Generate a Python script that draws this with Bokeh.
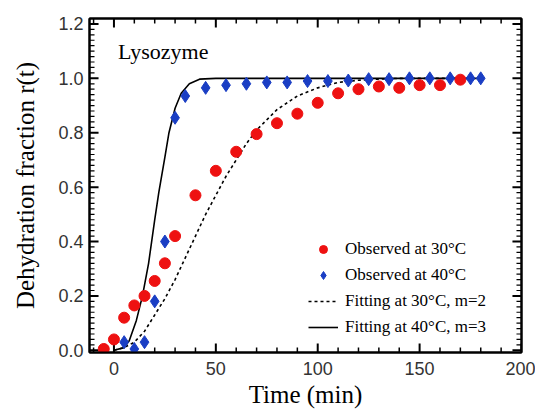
from bokeh.plotting import figure
from bokeh.models import (LinearAxis, FixedTicker, Legend, LegendItem, Label,
                          Range1d, CustomJSTickFormatter)
from bokeh.embed import file_html
from bokeh.resources import INLINE

# Observed at 30 °C (red circles)
t_obs30 = [-5, 0, 5, 10, 15, 20, 25, 30, 40, 50, 60, 70, 80, 90, 100, 110,
           120, 130, 140, 150, 160, 170]
r_obs30 = [0.005, 0.04, 0.12, 0.165, 0.20, 0.255, 0.32, 0.42, 0.57, 0.66,
           0.73, 0.795, 0.835, 0.87, 0.91, 0.945, 0.96, 0.97, 0.965, 0.975,
           0.975, 0.995]

# Observed at 40 °C (blue diamonds)
t_obs40 = [5, 10, 15, 20, 25, 30, 35, 45, 55, 65, 75, 85, 95, 105, 115, 125,
           135, 145, 155, 165, 175, 180]
r_obs40 = [0.03, 0.005, 0.03, 0.18, 0.40, 0.855, 0.935, 0.965, 0.975, 0.98,
           0.985, 0.985, 0.99, 0.99, 0.992, 0.997, 0.997, 1.0, 1.0, 1.0, 1.0,
           1.0]

# Fitting at 30 °C, m=2 (dotted)
t_fit30 = [0, 5, 10, 15, 20, 25, 30, 35, 40, 45, 50, 55, 60, 65, 70, 80, 90,
           100, 110, 120, 130, 140, 150, 180]
r_fit30 = [0.0, 0.01, 0.03, 0.07, 0.13, 0.19, 0.26, 0.34, 0.42, 0.50, 0.57,
           0.64, 0.70, 0.76, 0.81, 0.885, 0.935, 0.965, 0.985, 0.993, 0.997,
           1.0, 1.0, 1.0]

# Fitting at 40 °C, m=3 (solid)
t_fit40 = [0, 5, 7.5, 11, 14, 17, 20, 22, 25, 27, 30, 33, 37, 42, 50, 180]
r_fit40 = [0.0, 0.01, 0.035, 0.11, 0.20, 0.32, 0.48, 0.58, 0.71, 0.80, 0.89,
           0.945, 0.98, 0.997, 1.0, 1.0]

# Tick labels / tick positions
x_ticks = [0, 50, 100, 150, 200]
x_minor = [v for v in range(-10, 201, 10) if v not in x_ticks]
y_ticks = [0.0, 0.2, 0.4, 0.6, 0.8, 1.0, 1.2]
y_minor = [round(i * 0.02, 2) for i in range(0, 61) if i % 10 != 0]

# Axis extents
X_LO, X_HI = -12, 200
Y_LO, Y_HI = -0.008, 1.22

W, H = 535, 410
BL, BR, BT, BB = 89, 14, 18, 56

p = figure(width=W, height=H, output_backend="svg", toolbar_location=None,
           x_range=Range1d(X_LO, X_HI), y_range=Range1d(Y_LO, Y_HI),
           min_border_left=BL, min_border_right=BR, min_border_top=BT,
           min_border_bottom=BB,
           x_axis_label="Time (min)", y_axis_label="Dehydration fraction r(t)")
p.outline_line_color = "black"
p.outline_line_width = 2
p.xgrid.grid_line_color = None
p.ygrid.grid_line_color = None

TICK_FONT = "Liberation Sans"
SERIF = "Liberation Serif"


def style_axis(ax, ticks, show_labels):
    ax.ticker = FixedTicker(ticks=ticks)
    ax.axis_line_color = "black"
    ax.axis_line_width = 2
    ax.major_tick_in = 0
    ax.major_tick_out = 0
    ax.minor_tick_in = 0
    ax.minor_tick_out = 0
    ax.major_tick_line_color = None
    ax.minor_tick_line_color = None
    ax.major_label_text_font = TICK_FONT
    ax.major_label_text_font_size = "18px"
    ax.major_label_text_color = "#333333"
    if not show_labels:
        ax.major_label_text_alpha = 0
        ax.major_label_text_font_size = "1px"
        ax.major_label_standoff = 0


xa = p.xaxis[0]
ya = p.yaxis[0]
style_axis(xa, x_ticks, True)
style_axis(ya, y_ticks, True)
xa.major_label_standoff = 9
ya.major_label_standoff = 6
ya.formatter = CustomJSTickFormatter(code="return tick.toFixed(1);")
for ax in (xa, ya):
    ax.axis_label_text_font = SERIF
    ax.axis_label_text_font_size = "25px"
    ax.axis_label_text_font_style = "normal"
    ax.axis_label_text_color = "black"
xa.axis_label_standoff = 3
ya.axis_label_standoff = 16

top = LinearAxis()
style_axis(top, x_ticks, False)
p.add_layout(top, "above")
right = LinearAxis()
style_axis(right, y_ticks, False)
p.add_layout(right, "right")

# Inward tick marks (pixel lengths converted to data units)
frame_w = W - BL - BR - 2
frame_h = H - BT - BB
dx = (X_HI - X_LO) / frame_w
dy = (Y_HI - Y_LO) / frame_h
MAJ, MIN = 9, 5
for xs, ln, wd in ((x_ticks, MAJ, 2.0), (x_minor, MIN, 1.5)):
    n = len(xs)
    p.segment(x0=xs, y0=[Y_LO] * n, x1=xs, y1=[Y_LO + ln * dy] * n,
              line_color="black", line_width=wd)
    p.segment(x0=xs, y0=[Y_HI] * n, x1=xs, y1=[Y_HI - ln * dy] * n,
              line_color="black", line_width=wd)
for ys, ln, wd in ((y_ticks, MAJ, 2.0), (y_minor, MIN, 1.2)):
    n = len(ys)
    p.segment(x0=[X_LO] * n, y0=ys, x1=[X_LO + ln * dx] * n, y1=ys,
              line_color="black", line_width=wd)
    p.segment(x0=[X_HI] * n, y0=ys, x1=[X_HI - ln * dx] * n, y1=ys,
              line_color="black", line_width=wd)

fit30 = p.line(t_fit30, r_fit30, line_color="black", line_width=1.6,
               line_dash="3 3")
fit40 = p.line(t_fit40, r_fit40, line_color="black", line_width=1.6)
obs30 = p.scatter(t_obs30, r_obs30, marker="circle", size=11,
                  fill_color="#ee1111", line_color="#ee1111")
obs40 = p.scatter(t_obs40, r_obs40, marker="diamond", size=13,
                  fill_color="#1a3ec4", line_color="#1a3ec4")

p.add_layout(Label(x=2, y=1.10, text="Lysozyme", text_font=SERIF,
                   text_font_size="22px", text_baseline="middle",
                   text_color="black"))

legend = Legend(items=[
    LegendItem(label="Observed at 30°C", renderers=[obs30]),
    LegendItem(label="Observed at 40°C", renderers=[obs40]),
    LegendItem(label="Fitting at 30°C, m=2", renderers=[fit30]),
    LegendItem(label="Fitting at 40°C, m=3", renderers=[fit40]),
], location=(219, 15))
legend.label_text_font = SERIF
legend.label_text_font_size = "17px"
legend.label_text_color = "black"
legend.glyph_width = 30
legend.glyph_height = 20
legend.label_height = 20
legend.spacing = 6
legend.label_standoff = 7
legend.padding = 0
legend.margin = 0
legend.border_line_color = None
legend.background_fill_alpha = 0
p.add_layout(legend, "center")

open("out.html", "w").write(file_html(p, INLINE))
